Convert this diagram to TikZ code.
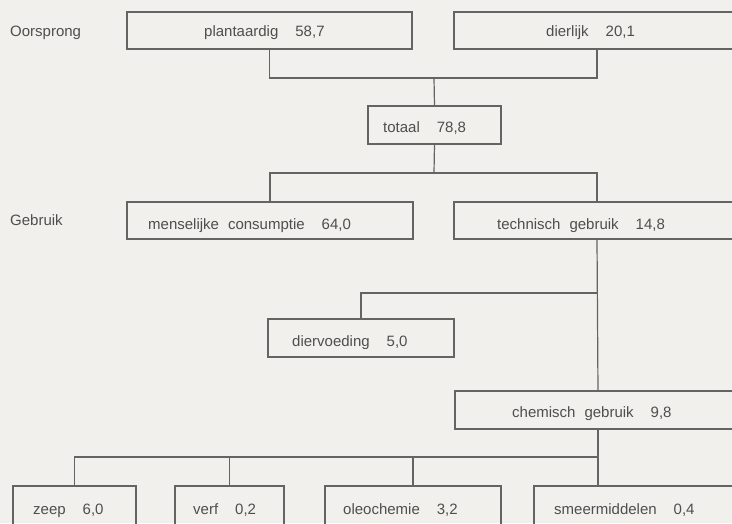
\documentclass[tikz,border=0pt]{standalone}
\usepackage{fontspec}
\setmainfont{Liberation Sans}
\definecolor{paper}{RGB}{241,240,237}
\definecolor{ink}{RGB}{100,100,100}
\definecolor{txtc}{RGB}{78,78,78}
% spacing between words and before the figures
\newcommand\gapw{\hspace{9pt}}
\newcommand\gapn{\hspace{17pt}}
\tikzset{
  box/.style={draw=ink, line width=1.2pt, inner sep=0pt, outer sep=0pt, anchor=north west},
  lbl/.style={anchor=base west, inner sep=0pt, text=txtc, font=\fontsize{15}{18}\selectfont},
  link/.style={draw=ink, line width=1.2pt}
}
\begin{document}
\begin{tikzpicture}[x=1pt, y=-1pt]
  \useasboundingbox[fill=paper] (0,0) rectangle (732,523);

  % boxes
  \node[box, minimum width=285pt, minimum height=37pt] (plant) at (127,12) {};
  \node[box, minimum width=286pt, minimum height=37pt] (dier)  at (454,12) {};
  \node[box, minimum width=133pt, minimum height=38pt] (tot)   at (368,106) {};
  \node[box, minimum width=286pt, minimum height=37pt] (mens)  at (127,202) {};
  \node[box, minimum width=286pt, minimum height=37pt] (tech)  at (454,202) {};
  \node[box, minimum width=186pt, minimum height=38pt] (diev)  at (268,319) {};
  \node[box, minimum width=286pt, minimum height=38pt] (chem)  at (455,391) {};
  \node[box, minimum width=123pt, minimum height=60pt] (zeep)  at (13,486) {};
  \node[box, minimum width=109pt, minimum height=60pt] (verf)  at (175,486) {};
  \node[box, minimum width=176pt, minimum height=60pt] (oleo)  at (325,486) {};
  \node[box, minimum width=250pt, minimum height=60pt] (smeer) at (534,486) {};

  % texts
  \node[lbl] (t-oors)  at (10,36)   {Oorsprong};
  \node[lbl] (t-gebr)  at (10,225)  {Gebruik};
  \node[lbl] (t-plant) at (204,36)  {plantaardig\gapn 58,7};
  \node[lbl] (t-dier)  at (546,36)  {dierlijk\gapn 20,1};
  \node[lbl] (t-tot)   at (383,132) {totaal\gapn 78,8};
  \node[lbl] (t-mens)  at (148,229) {menselijke\gapw consumptie\gapn 64,0};
  \node[lbl] (t-tech)  at (497,229) {technisch\gapw gebruik\gapn 14,8};
  \node[lbl] (t-diev)  at (292,346) {diervoeding\gapn 5,0};
  \node[lbl] (t-chem)  at (512,417) {chemisch\gapw gebruik\gapn 9,8};
  \node[lbl] (t-zeep)  at (33,514)  {zeep\gapn 6,0};
  \node[lbl] (t-verf)  at (193,514) {verf\gapn 0,2};
  \node[lbl] (t-oleo)  at (343,514) {oleochemie\gapn 3,2};
  \node[lbl] (t-smeer) at (554,514) {smeermiddelen\gapn 0,4};

  % junctions
  \coordinate (j1) at (434,78);
  \coordinate (j2) at (434,173);
  \coordinate (j3) at (597,293);
  \coordinate (j4) at (598,457);

  % connectors
  \draw[link] (plant.south) |- (j1) -| (dier.south);
  \draw[link] (j1) -- (tot.north);
  \draw[link] (tot.south) -- (j2);
  \draw[link] (mens.north) |- (j2) -| (tech.north);
  \draw[link] (tech.south) -- (chem.north);
  \draw[link] (diev.north) |- (j3);
  \draw[link] (chem.south) -- (j4);
  \draw[link] (zeep.north) |- (j4) -- (j4 |- smeer.north);
  \draw[link] (verf.north) -- (verf.north |- j4);
  \draw[link] (oleo.north) -- (oleo.north |- j4);
\end{tikzpicture}
\end{document}
